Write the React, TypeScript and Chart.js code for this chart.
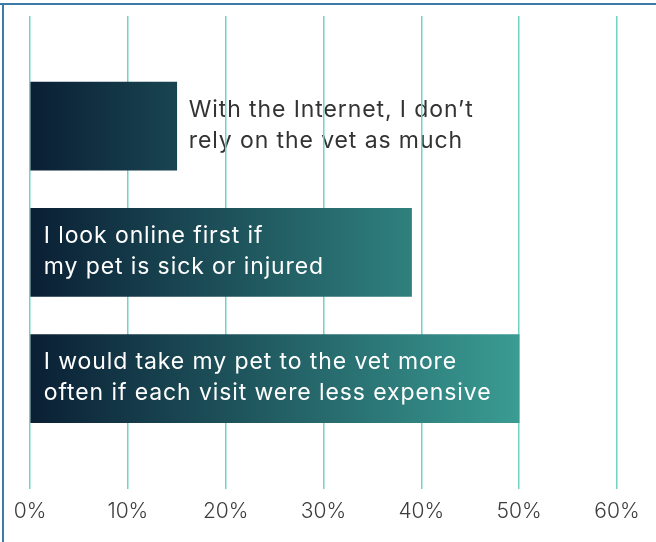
import React, { useEffect, useRef } from "react";
import { Chart, registerables } from "chart.js";

Chart.register(...registerables);

const categories: string[][] = [
  ["With the Internet, I don\u2019t", "rely on the vet as much"],
  ["I look online first if", "my pet is sick or injured"],
  ["I would take my pet to the vet more", "often if each visit were less expensive"],
];
const values: number[] = [15, 39, 50];
const labelInside: boolean[] = [false, true, true];
const tickValues: number[] = [0, 10, 20, 30, 40, 50, 60];

const FONT = "Inter, 'DejaVu Sans', sans-serif";

function drawLabels(chart: any, inside: boolean) {
  const ctx = chart.ctx;
  const meta = chart.getDatasetMeta(0);
  if (!meta || !meta.data) return;
  ctx.save();
  ctx.font = `400 23px ${FONT}`;
  (ctx as any).letterSpacing = "0.9px";
  ctx.textBaseline = "middle";
  ctx.textAlign = "left";
  meta.data.forEach((bar: any, i: number) => {
    if (labelInside[i] !== inside) return;
    const lines = categories[i];
    const x = inside ? bar.base + 13 : bar.x + 12;
    ctx.fillStyle = inside ? "#ffffff" : "#333333";
    const gap = 31;
    const y0 = bar.y - (gap * (lines.length - 1)) / 2 - 1;
    lines.forEach((ln, j) => ctx.fillText(ln, x, y0 + j * gap));
  });
  ctx.restore();
}

const labelPlugin = {
  id: "barLabels",
  beforeDraw(chart: any) {
    drawLabels(chart, false);
  },
  afterDatasetsDraw(chart: any) {
    drawLabels(chart, true);
  },
};

export default function App() {
  const ref = useRef<HTMLCanvasElement>(null);
  useEffect(() => {
    if (!ref.current) return;
    const chart = new Chart(ref.current, {
      type: "bar",
      data: {
        datasets: [
          {
            data: values.map((v, i) => ({ x: v, y: i })),
            barThickness: 88,
            borderWidth: 0,
            backgroundColor: (c: any) => {
              const ch = c.chart;
              const xs = ch.scales.x;
              if (!ch.chartArea || !xs) return "#1c4a55";
              const g = ch.ctx.createLinearGradient(xs.getPixelForValue(0), 0, xs.getPixelForValue(50), 0);
              g.addColorStop(0, "#0a1f34");
              g.addColorStop(1, "#3a9c93");
              return g;
            },
          } as any,
        ],
      },
      options: {
        indexAxis: "y",
        animation: false,
        responsive: false,
        layout: { padding: { left: 30, right: 39, top: 16, bottom: 8 } },
        plugins: { legend: { display: false }, tooltip: { enabled: false } },
        scales: {
          x: {
            type: "linear",
            min: 0,
            max: 60,
            afterBuildTicks: (s: any) => {
              s.ticks = tickValues.map((v) => ({ value: v }));
            },
            grid: { color: "#6fd3c6", lineWidth: 1.5, drawTicks: false },
            border: { display: false },
            ticks: {
              padding: 10,
              color: "#3d3d3d",
              font: { family: FONT, size: 21, weight: 300 as any },
              callback: (v: any) => `${v}%`,
            },
          },
          y: {
            type: "linear",
            reverse: true,
            offset: false,
            min: -0.873,
            max: 2.873,
            display: false,
          },
        },
      } as any,
      plugins: [labelPlugin],
    });
    return () => chart.destroy();
  }, []);

  return (
    <div style={{ position: "absolute", left: 0, top: 0, width: 656, height: 542, background: "#fff" }}>
      <canvas ref={ref} width={656} height={542} style={{ position: "absolute", left: 0, top: 0 }} />
      <div style={{ position: "absolute", left: 0, top: 3, width: 656, height: 2, background: "#3c7aa8" }} />
      <div style={{ position: "absolute", left: 2, top: 3, width: 2, height: 539, background: "#3c7aa8" }} />
    </div>
  );
}
